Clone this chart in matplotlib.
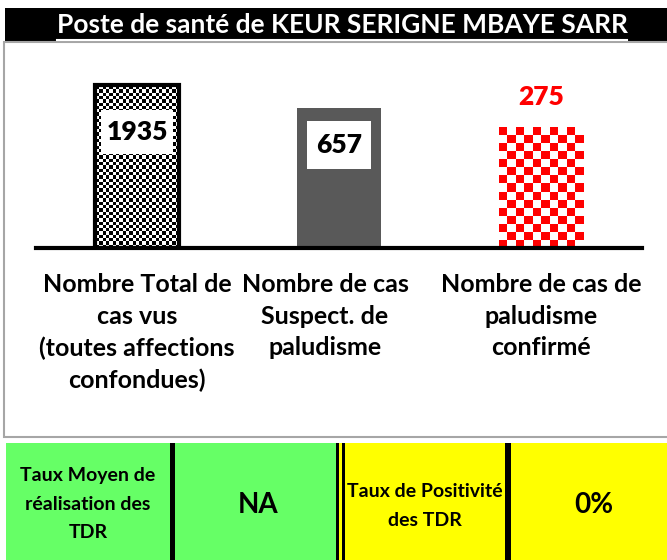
import numpy as np
import matplotlib
matplotlib.use('Agg')
import matplotlib.pyplot as plt
from matplotlib.patches import Rectangle
from matplotlib.lines import Line2D
from matplotlib.colors import ListedColormap

plt.rcParams['font.family'] = ['Lato', 'DejaVu Sans']

# data
title = 'Poste de santé de KEUR SERIGNE MBAYE SARR'
categories = ['Nombre Total de\ncas vus\n(toutes affections\nconfondues)',
              'Nombre de cas\nSuspect. de\npaludisme',
              'Nombre de cas de\npaludisme\nconfirmé']
values = [1935, 657, 275]
tdr_labels = ['Taux Moyen de\nréalisation des\nTDR', 'Taux de Positivité\ndes TDR']
tdr_values = ['NA', '0%']

W, H = 667, 560
fig = plt.figure(figsize=(W / 100, H / 100), dpi=100)


def fx(x):
    return x / W


def fy(y):
    return 1 - y / H


# title bar
fig.patches.append(Rectangle((fx(5), fy(43)), 1, 35 / H, transform=fig.transFigure,
                             facecolor='black', edgecolor='none', zorder=-5))
t = fig.text(fx(342), fy(25), title, color='white', fontsize=19, fontweight='bold',
             ha='center', va='center')

# chart frame
fig.patches.append(Rectangle((fx(4), fy(437)), 1, 395 / H, transform=fig.transFigure,
                             facecolor='white', edgecolor='#a6a6a6', lw=1.5, zorder=-5))

# bar axes, log scale (49.5 px per decade)
ax_top, ax_bot = 60, 248
ax = fig.add_axes([fx(36), fy(ax_bot), 606 / W, (ax_bot - ax_top) / H])
ax.set_zorder(2)
ax.set_yscale('log')
ax.set_ylim(1, 10 ** ((ax_bot - ax_top) / 49.5))
ax.set_xlim(-0.5, 2.5)
ax.patch.set_alpha(0)
x = np.arange(len(values))
bars = ax.bar(x, values, width=0.42, bottom=1)
bars[0].set_facecolor('none')
bars[0].set_edgecolor('black')
bars[0].set_linewidth(3)
bars[1].set_facecolor('#595959')
bars[1].set_edgecolor('none')
bars[2].set_facecolor('none')
bars[2].set_edgecolor('none')
for s in ['top', 'left', 'right']:
    ax.spines[s].set_visible(False)
ax.spines['bottom'].set_linewidth(3)
ax.set_xticks([])
ax.set_yticks([])
ax.yaxis.set_minor_locator(matplotlib.ticker.NullLocator())

# value labels
offsets = [-47, -36, 30]
labels = []
for i, v in enumerate(values):
    c = '#ff0000' if i == 2 else 'black'
    labels.append(ax.annotate(str(v), (x[i], v), xytext=(0, offsets[i] * 0.72),
                              textcoords='offset points', ha='center', va='center',
                              fontsize=19, fontweight='heavy', color=c, zorder=4))

# category labels
cat_x = [137, 325, 541]
for cx, lab in zip(cat_x, categories):
    fig.text(fx(cx), fy(273), lab, ha='center', va='top', fontsize=18, fontweight='bold',
             linespacing=1.45)

fig.canvas.draw()
# underline title
bb = t.get_window_extent()
fig.add_artist(Line2D([bb.x0 / W, bb.x1 / W], [fy(40), fy(40)], color='white', lw=1.5,
                      transform=fig.transFigure))

# white boxes behind the first two labels
hpads = [5, 9]
box_h = [44, 48]
for i in range(2):
    lb = labels[i].get_window_extent()
    cy = (lb.y0 + lb.y1) / 2
    ax.add_patch(Rectangle(((lb.x0 - hpads[i]) / W, (cy - box_h[i] / 2) / H),
                           (lb.width + 2 * hpads[i]) / W, box_h[i] / H,
                           transform=fig.transFigure, facecolor='white', edgecolor='none',
                           zorder=3))


def fill_pattern(bar, cell_px, colors, inset=0):
    b = bar.get_window_extent()
    x0, x1 = b.x0 + inset, b.x1 - inset
    y0, y1 = b.y0, b.y1 - inset
    ncol = max(1, int(round((x1 - x0) / cell_px)))
    nrow = max(1, int(round((y1 - y0) / cell_px)))
    pat = np.indices((nrow, ncol)).sum(axis=0) % 2
    pax = fig.add_axes([x0 / W, y0 / H, (x1 - x0) / W, (y1 - y0) / H])
    pax.set_zorder(1)
    pax.imshow(pat, cmap=ListedColormap(colors), aspect='auto', interpolation='nearest')
    pax.axis('off')


fill_pattern(bars[0], 3.3, ['black', 'white'], inset=1)
fill_pattern(bars[2], 8.1, ['#ff0000', 'white'])

# bottom table
cells = [(6, 170, '#66ff66'), (175, 337, '#66ff66'), (345, 505, '#ffff00'), (511, 667, '#ffff00')]
for x0, x1, c in cells:
    fig.patches.append(Rectangle((fx(x0), 0), (x1 - x0) / W, (H - 443) / H,
                                 transform=fig.transFigure, facecolor=c, edgecolor='none'))
for x0, x1 in [(170, 175), (336, 339), (342, 345), (505, 511)]:
    fig.patches.append(Rectangle((fx(x0), 0), (x1 - x0) / W, (H - 443) / H,
                                 transform=fig.transFigure, facecolor='black', edgecolor='none'))
fig.patches.append(Rectangle((fx(339), 0), 3 / W, (H - 443) / H,
                             transform=fig.transFigure, facecolor='#ffff00', edgecolor='none'))

fig.text(fx(88), fy(504), tdr_labels[0], ha='center', va='center', fontsize=14,
         fontweight='bold', linespacing=1.8)
fig.text(fx(258), fy(505), tdr_values[0], ha='center', va='center', fontsize=20,
         fontweight='bold')
fig.text(fx(425), fy(506), tdr_labels[1], ha='center', va='center', fontsize=14,
         fontweight='bold', linespacing=1.8)
fig.text(fx(594), fy(505), tdr_values[1], ha='center', va='center', fontsize=20,
         fontweight='bold')

fig.savefig('out.png', dpi=100)
